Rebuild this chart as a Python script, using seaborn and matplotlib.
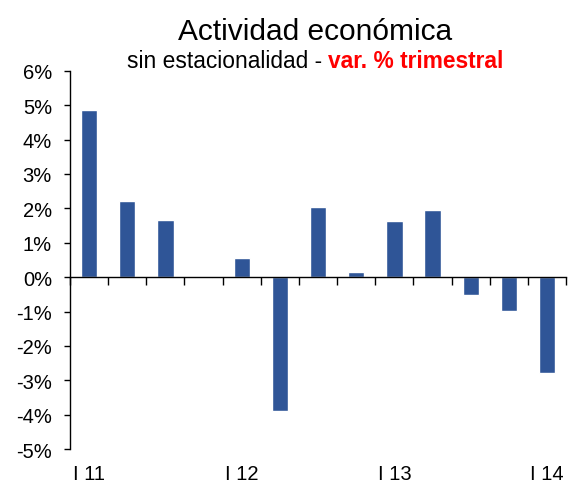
import matplotlib
matplotlib.use("Agg")
import matplotlib.pyplot as plt
import pandas as pd
import seaborn as sns

quarters = ["I 11", "II 11", "III 11", "IV 11",
            "I 12", "II 12", "III 12", "IV 12",
            "I 13", "II 13", "III 13", "IV 13",
            "I 14"]
growth = [4.87, 2.2, 1.67, -0.03, 0.57, -3.88, 2.04, 0.16, 1.62, 1.95, -0.53, -0.98, -2.8]
shown_labels = {"I 11", "I 12", "I 13", "I 14"}

df = pd.DataFrame({"quarter": quarters, "growth": growth})

sns.set_style("white")
plt.rcParams["font.family"] = ["Liberation Sans", "DejaVu Sans"]
plt.rcParams["text.color"] = "black"
plt.rcParams["ytick.color"] = "black"
plt.rcParams["xtick.color"] = "black"

fig = plt.figure(figsize=(5.69, 4.85), dpi=100)
ax = fig.add_axes([0.123, 0.072, 0.872, 0.78])

sns.barplot(data=df, x="quarter", y="growth", color="#2F5597",
            saturation=1, width=0.43, ax=ax)

ax.set_xlim(-0.5, len(quarters) - 0.5)
ax.set_ylim(-5, 6)
ax.set_yticks(range(-5, 7))
ax.set_yticklabels([f"{v}%" for v in range(-5, 7)], fontsize=14.5)
ax.set_xticks([i + 0.5 for i in range(-1, len(quarters))])
ax.set_xticklabels([])
ax.set_xlabel("")
ax.set_ylabel("")

for s in ["top", "right"]:
    ax.spines[s].set_visible(False)
ax.spines["bottom"].set_position(("data", 0))
for s in ["left", "bottom"]:
    ax.spines[s].set_color("black")
    ax.spines[s].set_linewidth(1.0)
ax.tick_params(axis="y", direction="out", length=4, width=1, left=True, pad=9)
ax.tick_params(axis="x", direction="out", length=6, width=1, bottom=True)

# only the first quarter of each year is labelled, below the plot area
for i, q in enumerate(quarters):
    if q in shown_labels:
        ax.text(i, -5.86, q, ha="center", va="baseline", fontsize=14.5, clip_on=False)

fig.text(315 / 569, 1 - 39.5 / 485, "Actividad económica", ha="center",
         va="baseline", fontsize=21.5)
sub_y = 1 - 68 / 485
sub1 = fig.text(0.0, sub_y, "sin estacionalidad - ", ha="left", va="baseline", fontsize=16.4)
sub2 = fig.text(0.0, sub_y, "var. % trimestral", ha="left", va="baseline",
                fontsize=16.4, color="red", fontweight="bold")
fig.canvas.draw()
r = fig.canvas.get_renderer()
w1 = sub1.get_window_extent(r).width
w2 = sub2.get_window_extent(r).width
W = fig.bbox.width
x0 = 315 - (w1 + w2) / 2
sub1.set_x(x0 / W)
sub2.set_x((x0 + w1) / W)

fig.savefig("out.png", dpi=100)
